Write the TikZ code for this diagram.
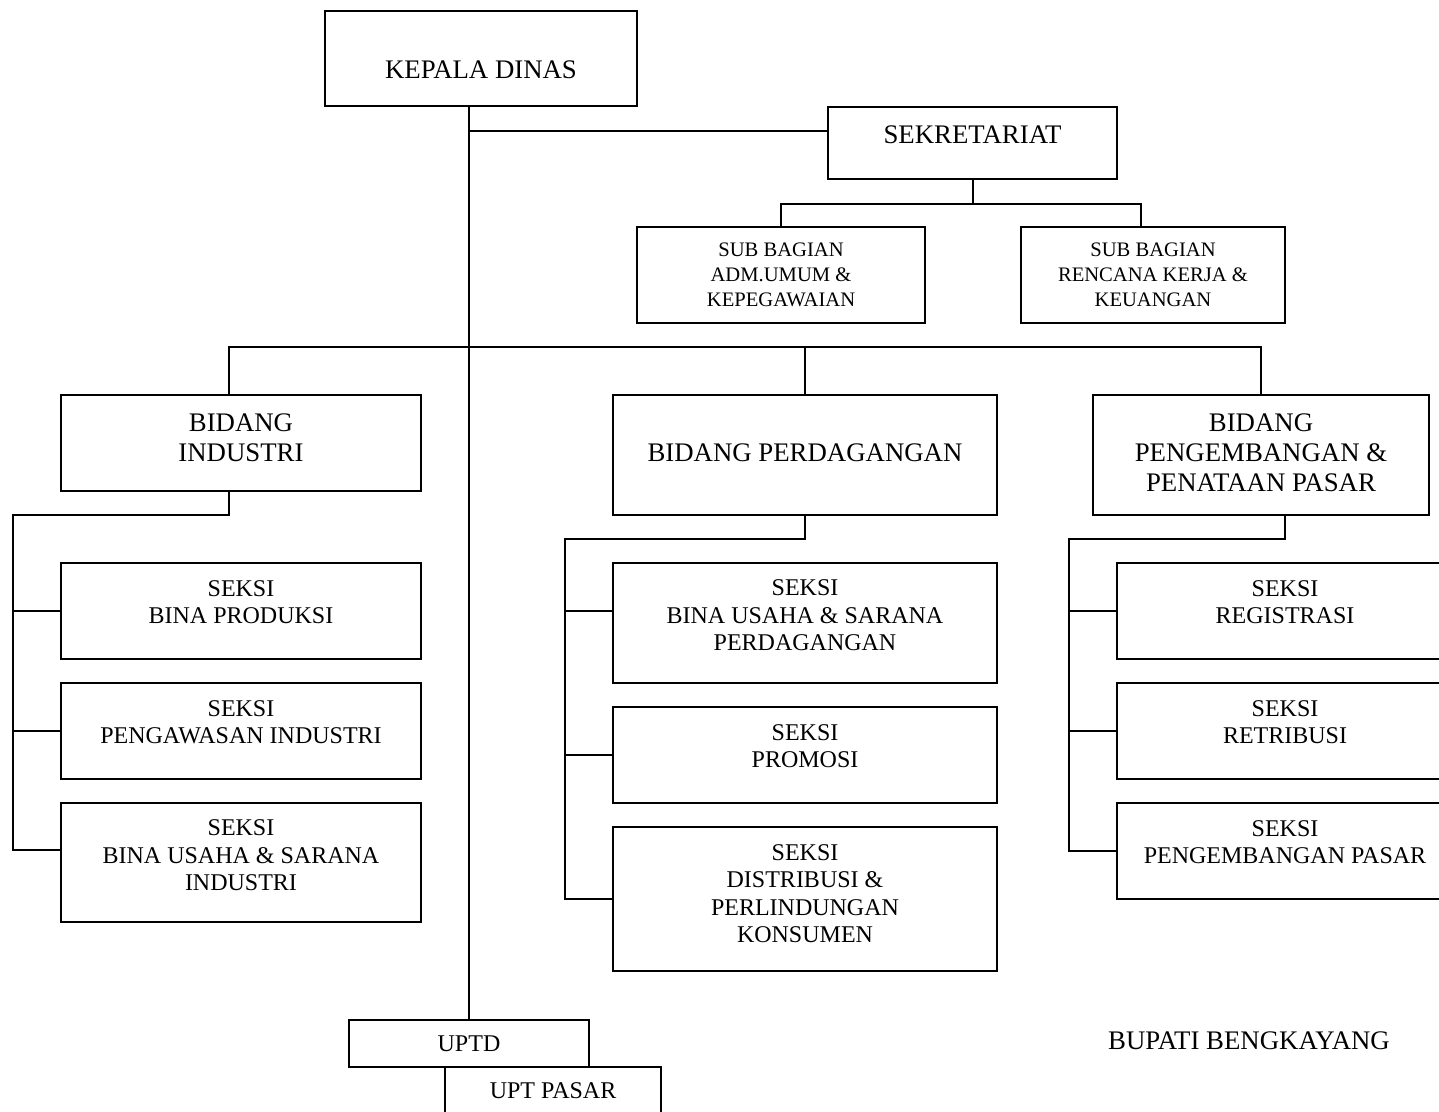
\documentclass[tikz,border=0pt]{standalone}
\usepackage{fontspec}
\setmainfont{Liberation Serif}

\tikzset{
  box/.style={draw, line width=1pt, inner sep=0pt},
  every label/.style={align=center, inner sep=0pt},
  bigtxt/.style={font=\fontsize{13.4}{15}\selectfont},
  seksitxt/.style={font=\fontsize{12}{13.75}\selectfont},
  subtxt/.style={font=\fontsize{10.3}{12.5}\selectfont},
}

\begin{document}
\begin{tikzpicture}[x=0.5pt, y=-0.5pt, line width=1pt]
    \useasboundingbox (0,0) rectangle (1439,1112);

    \node[box, minimum width=156pt, minimum height=47.5pt, label={[bigtxt, yshift=-5.75pt]center:KEPALA DINAS}] (kd) at (481,58.5) {};
    \node[box, minimum width=144.5pt, minimum height=36pt, label={[bigtxt, yshift=4pt]center:SEKRETARIAT}] (sek) at (972.5,143) {};
    \node[box, minimum width=144pt, minimum height=48pt, label={[subtxt]center:SUB BAGIAN\\ADM.UMUM \&\\KEPEGAWAIAN}] (sb1) at (781,275) {};
    \node[box, minimum width=132pt, minimum height=48pt, label={[subtxt]center:SUB BAGIAN\\RENCANA KERJA \&\\KEUANGAN}] (sb2) at (1153,275) {};

    \node[box, minimum width=180pt, minimum height=48pt, label={[bigtxt, yshift=2.75pt]center:BIDANG\\INDUSTRI}] (bi) at (241,443) {};
    \node[box, minimum width=192pt, minimum height=60pt, label={[bigtxt, yshift=1pt]center:BIDANG PERDAGANGAN}] (bp) at (805,455) {};
    \node[box, minimum width=168pt, minimum height=60pt, label={[bigtxt, yshift=1.25pt]center:BIDANG\\PENGEMBANGAN \&\\PENATAAN PASAR}] (bg) at (1261,455) {};

    \node[box, minimum width=180pt, minimum height=48pt, label={[seksitxt, yshift=4.5pt]center:SEKSI\\BINA PRODUKSI}] (s1) at (241,611) {};
    \node[box, minimum width=180pt, minimum height=48pt, label={[seksitxt, yshift=4.5pt]center:SEKSI\\PENGAWASAN INDUSTRI}] (s2) at (241,731) {};
    \node[box, minimum width=180pt, minimum height=59.5pt, label={[seksitxt, yshift=3.5pt]center:SEKSI\\BINA USAHA \& SARANA\\INDUSTRI}] (s3) at (241,862.5) {};

    \node[box, minimum width=192pt, minimum height=60pt, label={[seksitxt, yshift=3.75pt]center:SEKSI\\BINA USAHA \& SARANA\\PERDAGANGAN}] (m1) at (805,623) {};
    \node[box, minimum width=192pt, minimum height=48pt, label={[seksitxt, yshift=4.5pt]center:SEKSI\\PROMOSI}] (m2) at (805,755) {};
    \node[box, minimum width=192pt, minimum height=72pt, label={[seksitxt, yshift=2.75pt]center:SEKSI\\DISTRIBUSI \&\\PERLINDUNGAN\\KONSUMEN}] (m3) at (805,899) {};

    \node[box, minimum width=168pt, minimum height=48pt, label={[seksitxt, yshift=4.5pt]center:SEKSI\\REGISTRASI}] (r1) at (1285,611) {};
    \node[box, minimum width=168pt, minimum height=48pt, label={[seksitxt, yshift=4.5pt]center:SEKSI\\RETRIBUSI}] (r2) at (1285,731) {};
    \node[box, minimum width=168pt, minimum height=48pt, label={[seksitxt, yshift=4.5pt]center:SEKSI\\PENGEMBANGAN PASAR}] (r3) at (1285,851) {};

    \node[box, seksitxt, minimum width=120pt, minimum height=23.5pt] (uptd) at (469,1043.5) {UPTD};
    \node[box, seksitxt, minimum width=108pt, minimum height=24pt] (upt) at (553,1091) {UPT PASAR};
    \node[bigtxt] (bupati) at (1249,1041) {BUPATI BENGKAYANG};

    \draw (uptd.north |- kd.south) -- (uptd.north);
    \coordinate (cs) at (469,131);
    \draw (cs) -- (cs -| sek.west);
    \draw (sek.south) -- ++(0,-12pt) coordinate (cb);
    \draw (sb1.north) |- (cb) -| ([xshift=-6pt]sb2.north);

    \coordinate (bb) at (469,347);
    \draw ([xshift=-6pt]bi.north) |- (bb) -| (bg.north);
    \draw (bp.north) -- (bp.north |- bb);

    \draw ([xshift=-6pt]bi.south) |- (13,515) coordinate (lr) |- ([yshift=6.25pt]s3.west);
    \draw (lr |- s1.west) -- (s1.west);
    \draw (lr |- s2.west) -- (s2.west);

    \coordinate (m1b) at ([yshift=6pt]m1.west);
    \draw (bp.south) |- (565,539) coordinate (mr) |- (m3.west);
    \draw (mr |- m1b) -- (m1b);
    \draw (mr |- m2.west) -- (m2.west);

    \draw ([xshift=12pt]bg.south) |- (1069,539) coordinate (rr) |- (r3.west);
    \draw (rr |- r1.west) -- (r1.west);
    \draw (rr |- r2.west) -- (r2.west);
\end{tikzpicture}
\end{document}
